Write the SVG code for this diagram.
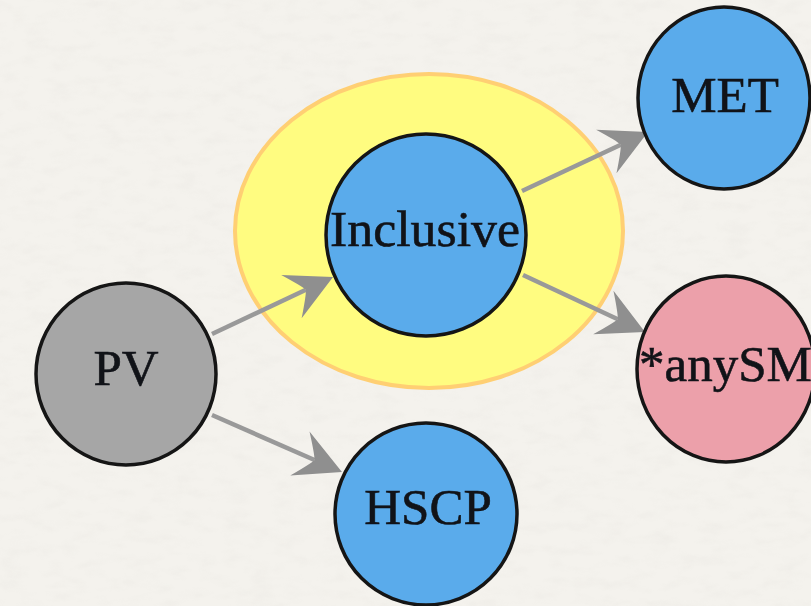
<svg xmlns="http://www.w3.org/2000/svg" width="811" height="606" viewBox="0 0 811 606">
  <defs>
    <!-- faint paper grain for the backdrop -->
    <filter id="grain" x="0" y="0" width="100%" height="100%">
      <feTurbulence type="fractalNoise" baseFrequency="0.04 0.09" numOctaves="3" seed="7" result="n"/>
      <feColorMatrix in="n" type="matrix" values="0 0 0 0 0.55  0 0 0 0 0.53  0 0 0 0 0.50  0 0 0 -0.9 0.5" result="tint"/>
      <feComposite in="tint" in2="SourceGraphic" operator="in"/>
    </filter>
    <!-- swept-back arrowhead; origin sits at the notch where the shaft ends -->
    <marker id="head" markerUnits="userSpaceOnUse" markerWidth="60" markerHeight="60" refX="0" refY="0" orient="auto" overflow="visible">
      <path d="M30,0 L-16,-24 Q-2,-5 0,0 Q-2,5 -16,24 Z" fill="#8f8f8f"/>
    </marker>
    <style>
      .node { stroke: #151515; stroke-width: 3.5; }
      .blue { fill: #5aabeb; }
      .grey { fill: #a6a6a6; }
      .pink { fill: #eca0aa; }
      .label { font-family: "Liberation Serif", "Times New Roman", serif; font-size: 51px; fill: #111318; stroke: #111318; stroke-width: 0.6; text-anchor: middle; }
      .edge { fill: none; stroke: #999999; stroke-width: 4.5; marker-end: url(#head); }
    </style>
  </defs>

  <!-- backdrop -->
  <rect width="811" height="606" fill="#f4f2ed"/>
  <rect width="811" height="606" fill="#f4f2ed" filter="url(#grain)" opacity="0.2"/>

  <!-- highlight halo round the Inclusive node -->
  <g id="halo">
    <ellipse cx="429" cy="231" rx="194" ry="157" fill="#fffc80" stroke="#ffcf73" stroke-width="4"/>
  </g>

  <g id="edges">
    <path class="edge" d="M212,334 L305.9,289.8"/>
    <path class="edge" d="M522,191 L620.8,144.7"/>
    <path class="edge" d="M523,275 L617.8,319.3"/>
    <path class="edge" d="M212,415 L314.5,460"/>
  </g>

  <g id="inclusive">
    <ellipse class="node blue" cx="426" cy="235" rx="100" ry="101"/>
    <text class="label" x="425" y="246" textLength="190" lengthAdjust="spacingAndGlyphs">Inclusive</text>
  </g>

  <g id="met">
    <ellipse class="node blue" cx="724" cy="98" rx="86" ry="91"/>
    <text class="label" x="725" y="112">MET</text>
  </g>

  <g id="anysm">
    <ellipse class="node pink" cx="726" cy="369" rx="89" ry="93"/>
    <text class="label" x="639" y="381" style="text-anchor:start">*anySM</text>
  </g>

  <g id="pv">
    <ellipse class="node grey" cx="126" cy="374" rx="90" ry="91"/>
    <text class="label" x="126" y="385">PV</text>
  </g>

  <g id="hscp">
    <ellipse class="node blue" cx="426" cy="514" rx="91" ry="91"/>
    <text class="label" x="428" y="524">HSCP</text>
  </g>
</svg>
